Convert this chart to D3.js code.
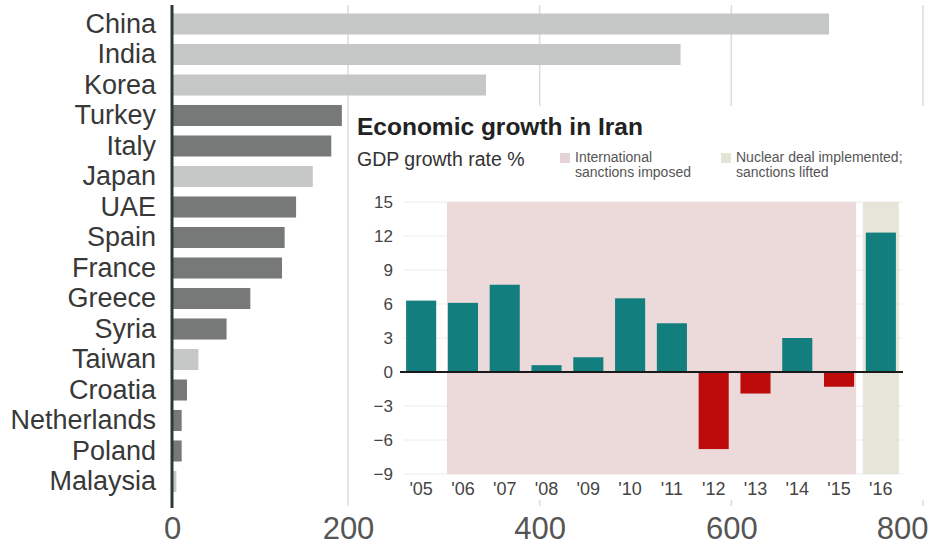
<!DOCTYPE html>
<html>
<head>
<meta charset="utf-8">
<script src="https://cdn.jsdelivr.net/npm/d3@7/dist/d3.min.js"></script>
<style>
  body { margin: 0; background: #fff; }
  svg { display: block; font-family: "Liberation Sans", Arial, sans-serif; }
</style>
</head>
<body>
<div id="chart"></div>
<script>
// main chart data
var countries = ["China", "India", "Korea", "Turkey", "Italy", "Japan", "UAE", "Spain",
  "France", "Greece", "Syria", "Taiwan", "Croatia", "Netherlands", "Poland", "Malaysia"];
var countryValues = [702, 547, 344, 193, 181, 160, 141, 128, 125, 89, 62, 30, 17, 11, 11, 5];
var countryShade = ["light", "light", "light", "dark", "dark", "light", "dark", "dark",
  "dark", "dark", "dark", "light", "dark", "dark", "dark", "light"];
var xTicks = [0, 200, 400, 600, 800];

// inset data
var years = ["'05", "'06", "'07", "'08", "'09", "'10", "'11", "'12", "'13", "'14", "'15", "'16"];
var gdpGrowth = [6.3, 6.1, 7.7, 0.6, 1.3, 6.5, 4.3, -6.8, -1.9, 3.0, -1.3, 12.3];
var yTicks = [-9, -6, -3, 0, 3, 6, 9, 12, 15];
var sanctionYears = ["'06", "'15"];
var liftedYears = ["'16", "'16"];

var width = 929, height = 551;

var svg = d3.select("#chart")
  .append("svg")
  .attr("width", width)
  .attr("height", height);

// x scale (the picture's spacing is a bit uneven, so 0-200 is kept separate)
var x = d3.scaleLinear()
  .domain([0, 200, 800])
  .range([172, 348, 923]);

var y = d3.scaleBand()
  .domain(countries)
  .range([8.75, 496.75])
  .paddingInner(0.31)
  .paddingOuter(0.155);

// gridlines
svg.append("g")
  .selectAll("line")
  .data(xTicks.slice(1))
  .enter()
  .append("line")
    .attr("x1", function(d) { return x(d); })
    .attr("x2", function(d) { return x(d); })
    .attr("y1", 5)
    .attr("y2", 506)
    .attr("stroke", "#dcdcdc")
    .attr("stroke-width", 1.5);

// bottom axis labels
var xAxis = svg.append("g")
  .attr("transform", "translate(0,510)")
  .call(d3.axisBottom(x).tickValues(xTicks).tickSize(0).tickPadding(0).tickFormat(d3.format("d")));
xAxis.select(".domain").remove();
xAxis.selectAll("text")
  .attr("font-size", 31)
  .attr("fill", "#555")
  .attr("font-family", "'Liberation Sans', Arial, sans-serif")
  .attr("dy", "0.95em");
xAxis.selectAll(".tick").filter(function(d) { return d === 800; })
  .select("text")
  .attr("text-anchor", "end")
  .attr("x", width - x(800) - 1);

// bars
svg.append("g")
  .selectAll("rect")
  .data(countries)
  .enter()
  .append("rect")
    .attr("x", x(0))
    .attr("y", function(d) { return y(d); })
    .attr("width", function(d, i) { return x(countryValues[i]) - x(0); })
    .attr("height", y.bandwidth())
    .attr("fill", function(d, i) { return countryShade[i] === "light" ? "#c6c7c7" : "#777979"; });

// country labels
var yAxis = svg.append("g")
  .attr("transform", "translate(" + x(0) + ",0)")
  .call(d3.axisLeft(y).tickSize(0).tickPadding(16));
yAxis.select(".domain").remove();
yAxis.selectAll("text")
  .attr("font-size", 27)
  .attr("fill", "#383838")
  .attr("font-family", "'Liberation Sans', Arial, sans-serif");

// zero line
svg.append("line")
  .attr("x1", x(0)).attr("x2", x(0))
  .attr("y1", 5).attr("y2", 508)
  .attr("stroke", "#2e3a3a")
  .attr("stroke-width", 3);

// ---- inset: Economic growth in Iran ----
var inset = svg.append("g");

inset.append("rect")
  .attr("x", 350)
  .attr("y", 106)
  .attr("width", width - 350)
  .attr("height", 394)
  .attr("fill", "#fff");

inset.append("text")
  .attr("x", 357)
  .attr("y", 135)
  .attr("font-size", 24.5)
  .attr("font-weight", "bold")
  .attr("fill", "#222")
  .text("Economic growth in Iran");

inset.append("text")
  .attr("x", 357)
  .attr("y", 166)
  .attr("font-size", 19.5)
  .attr("fill", "#333")
  .text("GDP growth rate %");

// legend
var legend = [
  { color: "#e6d3d5", lines: ["International", "sanctions imposed"], x: 560 },
  { color: "#e3e5d6", lines: ["Nuclear deal implemented;", "sanctions lifted"], x: 721 }
];
legend.forEach(function(l) {
  inset.append("rect")
    .attr("x", l.x).attr("y", 153)
    .attr("width", 10).attr("height", 10)
    .attr("fill", l.color);
  l.lines.forEach(function(s, i) {
    inset.append("text")
      .attr("x", l.x + 15)
      .attr("y", 162 + i * 15)
      .attr("font-size", 14)
      .attr("fill", "#555")
      .text(s);
  });
});

var ix = d3.scaleBand()
  .domain(years)
  .range([399, 903])
  .paddingInner(0.28)
  .paddingOuter(0.17);

var iy = d3.scaleLinear()
  .domain([-9, 15])
  .range([474, 202]);

// gridlines
inset.append("g")
  .selectAll("line")
  .data(yTicks)
  .enter()
  .append("line")
    .attr("x1", 403).attr("x2", 903)
    .attr("y1", function(d) { return iy(d); })
    .attr("y2", function(d) { return iy(d); })
    .attr("stroke", "#ececec")
    .attr("stroke-width", 1);

// shaded periods
inset.append("rect")
  .attr("x", ix(sanctionYears[0]) - 1)
  .attr("y", iy(15))
  .attr("width", ix(sanctionYears[1]) + ix.bandwidth() + 2 - (ix(sanctionYears[0]) - 1))
  .attr("height", iy(-9) - iy(15))
  .attr("fill", "#ecd9da");

inset.append("rect")
  .attr("x", ix(liftedYears[0]) - 3)
  .attr("y", iy(15))
  .attr("width", ix.bandwidth() + 6)
  .attr("height", iy(-9) - iy(15))
  .attr("fill", "#e5e6d9");

// bars
inset.append("g")
  .selectAll("rect")
  .data(years)
  .enter()
  .append("rect")
    .attr("x", function(d) { return ix(d); })
    .attr("y", function(d, i) { return iy(Math.max(0, gdpGrowth[i])); })
    .attr("width", ix.bandwidth())
    .attr("height", function(d, i) { return Math.abs(iy(gdpGrowth[i]) - iy(0)); })
    .attr("fill", function(d, i) { return gdpGrowth[i] < 0 ? "#bd0a0a" : "#127e7e"; });

// zero line
inset.append("line")
  .attr("x1", 400).attr("x2", 903)
  .attr("y1", iy(0)).attr("y2", iy(0))
  .attr("stroke", "#1a1a1a")
  .attr("stroke-width", 2);

// y labels
var iyAxis = inset.append("g")
  .attr("transform", "translate(393,0)")
  .call(d3.axisLeft(iy).tickValues(yTicks).tickSize(0).tickPadding(0));
iyAxis.select(".domain").remove();
iyAxis.selectAll("text")
  .attr("font-size", 17)
  .attr("fill", "#444")
  .attr("font-family", "'Liberation Sans', Arial, sans-serif");

// year labels
var ixAxis = inset.append("g")
  .attr("transform", "translate(0,480)")
  .call(d3.axisBottom(ix).tickSize(0).tickPadding(0));
ixAxis.select(".domain").remove();
ixAxis.selectAll("text")
  .attr("font-size", 18)
  .attr("fill", "#444")
  .attr("font-family", "'Liberation Sans', Arial, sans-serif")
  .attr("dy", "0.85em");
</script>
</body>
</html>
